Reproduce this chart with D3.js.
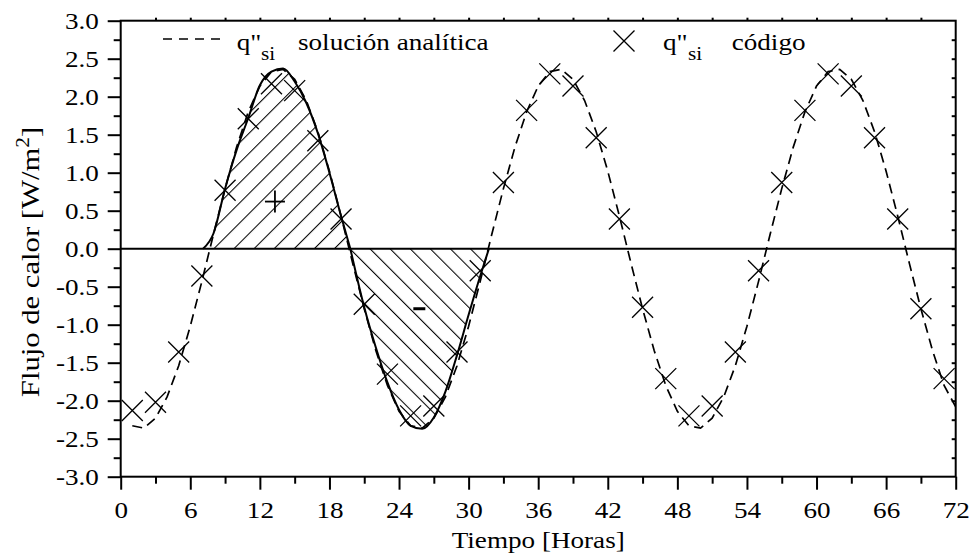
<!DOCTYPE html>
<html lang="es">
<head>
<meta charset="UTF-8">
<title>Flujo de calor</title>
<style>
    body { margin: 0; background: #fff; }
    svg { display: block; }
    text { font-family: "Liberation Serif", "Times New Roman", serif; fill: #000; }
</style>
</head>
<body>
<svg id="chart" width="971" height="560"></svg>
<script src="https://cdnjs.cloudflare.com/ajax/libs/d3/7.8.5/d3.min.js"></script>
<script>
// analytic solution, hourly (h 1..72)
const analyticHours = d3.range(1, 73);
const analyticValues = [
    -2.33, -2.36, -2.23, -1.95, -1.54, -1.02, -0.43, 0.19, 0.79, 1.34, 1.80, 2.14,
     2.33,  2.36,  2.23,  1.95,  1.54,  1.02,  0.43, -0.19, -0.79, -1.34, -1.80, -2.14,
    -2.33, -2.36, -2.23, -1.95, -1.54, -1.02, -0.43, 0.19, 0.79, 1.34, 1.80, 2.14,
     2.33,  2.36,  2.23,  1.95,  1.54,  1.02,  0.43, -0.19, -0.79, -1.34, -1.80, -2.14,
    -2.33, -2.36, -2.23, -1.95, -1.54, -1.02, -0.43, 0.19, 0.79, 1.34, 1.80, 2.14,
     2.33,  2.36,  2.23,  1.95,  1.54,  1.02,  0.43, -0.19, -0.79, -1.34, -1.80, -2.08
];

// code results, every 2 hours
const codeHours = d3.range(1, 72, 2);
const codeValues = [
    -2.13, -2.02, -1.36, -0.36, 0.77, 1.71, 2.17, 2.08, 1.42, 0.39, -0.73, -1.65,
    -2.20, -2.07, -1.36, -0.29, 0.87, 1.82, 2.30, 2.14, 1.46, 0.39, -0.77, -1.71,
    -2.20, -2.07, -1.36, -0.29, 0.87, 1.82, 2.30, 2.14, 1.46, 0.39, -0.79, -1.71
];

// hatched lobes (first cycle)
const posHours = [7.1, 8, 9, 10, 11, 12, 13, 14, 15, 16, 17, 18, 19, 19.8];
const posValues = [0, 0.20, 0.79, 1.30, 1.72, 2.15, 2.33, 2.37, 2.20, 1.92, 1.52, 1.00, 0.43, 0];
const negHours = [19.8, 21, 22, 23, 24, 25, 26, 27, 28, 29, 30, 31, 31.75];
const negValues = [0, -0.77, -1.30, -1.76, -2.12, -2.33, -2.37, -2.22, -1.88, -1.40, -0.87, -0.36, 0];

const xTicks = d3.range(0, 73, 6);
const xMinor = d3.range(3, 72, 6);
const yTicks = d3.range(-3, 3.01, 0.5);
const yMinor = d3.range(-2.75, 3, 0.5);

const svg = d3.select('#chart');
const SX = 1.18;   // fonts in the original are horizontally stretched
const x = d3.scaleLinear().domain([0, 72]).range([120.7, 955.7]);
const y = d3.scaleLinear().domain([-3, 3]).range([476.7, 20.7]);

function stretchText(g, px, py, str, size, anchor) {
    return g.append('g')
        .attr('transform', `translate(${px},${py}) scale(${SX},1)`)
        .append('text')
        .attr('text-anchor', anchor || 'start')
        .style('font-size', size + 'px')
        .text(str);
}

// hatch patterns
const defs = svg.append('defs');
[['hatchPos', 45], ['hatchNeg', -45]].forEach(([id, ang]) => {
    defs.append('pattern')
        .attr('id', id)
        .attr('patternUnits', 'userSpaceOnUse')
        .attr('width', 14.2).attr('height', 14.2)
        .attr('patternTransform', `rotate(${ang})`)
        .append('line')
        .attr('x1', 0).attr('y1', 0).attr('x2', 0).attr('y2', 14.2)
        .attr('stroke', '#000').attr('stroke-width', 2.1);
});
defs.append('clipPath').attr('id', 'plotClip')
    .append('rect')
    .attr('x', x(0)).attr('y', y(3))
    .attr('width', x(72) - x(0)).attr('height', y(-3) - y(3));

// lobes
const area = d3.area()
    .x(d => x(d[0]))
    .y0(y(0))
    .y1(d => y(d[1]))
    .curve(d3.curveMonotoneX);
const lobeLine = d3.line()
    .x(d => x(d[0]))
    .y(d => y(d[1]))
    .curve(d3.curveMonotoneX);

const posData = posHours.map((h, i) => [h, posValues[i]]);
const negData = negHours.map((h, i) => [h, negValues[i]]);
[[posData, 'hatchPos'], [negData, 'hatchNeg']].forEach(([data, pat]) => {
    svg.append('path').datum(data)
        .attr('d', area)
        .attr('fill', `url(#${pat})`);
    svg.append('path').datum(data)
        .attr('d', lobeLine)
        .attr('fill', 'none')
        .attr('stroke', '#000')
        .attr('stroke-width', 2);
});

// sign labels inside lobes
const signs = svg.append('g').attr('stroke', '#000');
signs.append('line')
    .attr('x1', x(13.3) - 10).attr('x2', x(13.3) + 10)
    .attr('y1', y(0.62)).attr('y2', y(0.62)).attr('stroke-width', 1.8);
signs.append('line')
    .attr('x1', x(13.3)).attr('x2', x(13.3))
    .attr('y1', y(0.62) - 11).attr('y2', y(0.62) + 11).attr('stroke-width', 1.8);
signs.append('line')
    .attr('x1', x(25.75) - 6).attr('x2', x(25.75) + 6)
    .attr('y1', y(-0.79)).attr('y2', y(-0.79)).attr('stroke-width', 3);

// zero line
svg.append('line')
    .attr('x1', x(0)).attr('x2', x(72))
    .attr('y1', y(0)).attr('y2', y(0))
    .attr('stroke', '#000').attr('stroke-width', 2);

// analytic dashed curve
const analytic = analyticHours.map((h, i) => [h, analyticValues[i]]);
svg.append('path').datum(analytic)
    .attr('clip-path', 'url(#plotClip)')
    .attr('d', d3.line().x(d => x(d[0])).y(d => y(d[1])))
    .attr('fill', 'none')
    .attr('stroke', '#000')
    .attr('stroke-width', 1.7)
    .attr('stroke-dasharray', '10,6');

// code markers (X)
const m = 10.5;
const markers = svg.append('g').attr('stroke', '#000').attr('stroke-width', 1.3);
codeHours.forEach((h, i) => {
    const cx = x(h), cy = y(codeValues[i]);
    markers.append('path')
        .attr('d', `M${cx - m},${cy - m}L${cx + m},${cy + m}M${cx - m},${cy + m}L${cx + m},${cy - m}`);
});

// axes
const fmt = d => d.toFixed(1);
const gx = svg.append('g').attr('transform', `translate(0,${y(-3)})`)
    .call(d3.axisBottom(x).tickValues(xTicks).tickSize(13).tickSizeOuter(0).tickPadding(12).tickFormat(d3.format('d')));
svg.append('g').attr('transform', `translate(0,${y(-3)})`)
    .call(d3.axisBottom(x).tickValues(xMinor).tickSize(7).tickSizeOuter(0).tickFormat(''));
const gy = svg.append('g').attr('transform', `translate(${x(0)},0)`)
    .call(d3.axisLeft(y).tickValues(yTicks).tickSize(13).tickSizeOuter(0).tickPadding(5.5).tickFormat(fmt));
svg.append('g').attr('transform', `translate(${x(0)},0)`)
    .call(d3.axisLeft(y).tickValues(yMinor).tickSize(7).tickSizeOuter(0).tickFormat(''));
// right and top small ticks
svg.append('g').attr('transform', `translate(${x(72)},0)`)
    .call(d3.axisLeft(y).tickValues(d3.range(-2.75, 3, 0.25)).tickSize(4).tickSizeOuter(0).tickFormat(''));
svg.append('g').attr('transform', `translate(0,${y(3)})`)
    .call(d3.axisTop(x).tickValues(d3.range(3, 72, 3)).tickSize(3).tickSizeOuter(0).tickFormat(''));

svg.selectAll('.domain').remove();
svg.selectAll('.tick line').attr('stroke-width', 2);
svg.selectAll('.tick text')
    .style('font-size', '23px')
    .style('font-family', '"Liberation Serif", "Times New Roman", serif')
    .attr('fill', '#000');
gx.selectAll('.tick text').attr('transform', `scale(${SX},1)`);
gy.selectAll('.tick text').attr('transform', `scale(${SX},1)`);

// frame
svg.append('rect')
    .attr('x', x(0)).attr('y', y(3))
    .attr('width', x(72) - x(0)).attr('height', y(-3) - y(3))
    .attr('fill', 'none').attr('stroke', '#000').attr('stroke-width', 2);

// axis titles
stretchText(svg, (x(0) + x(72)) / 2, 548, 'Tiempo [Horas]', 23, 'middle');
const yt = svg.append('g')
    .attr('transform', `translate(39,262) rotate(-90) scale(${SX},1)`)
    .append('text')
    .attr('text-anchor', 'middle')
    .style('font-size', '26px');
yt.append('tspan').text('Flujo de calor [W/m');
yt.append('tspan').attr('dy', -10).style('font-size', '18px').text('2');
yt.append('tspan').attr('dy', 10).text(']');

// legend
svg.append('line')
    .attr('x1', 163).attr('x2', 223).attr('y1', 39).attr('y2', 39)
    .attr('stroke', '#000').attr('stroke-width', 1.7).attr('stroke-dasharray', '9,7');
stretchText(svg, 236.7, 50, 'q"', 23);
stretchText(svg, 261, 60, 'si', 18);
stretchText(svg, 298, 50, 'solución analítica', 23);

const lx = 624, ly = 41;
svg.append('path')
    .attr('d', `M${lx - m},${ly - m}L${lx + m},${ly + m}M${lx - m},${ly + m}L${lx + m},${ly - m}`)
    .attr('stroke', '#000').attr('stroke-width', 1.3);
stretchText(svg, 663, 50, 'q"', 23);
stretchText(svg, 688, 60, 'si', 18);
stretchText(svg, 731.7, 50, 'código', 23);
</script>
</body>
</html>
